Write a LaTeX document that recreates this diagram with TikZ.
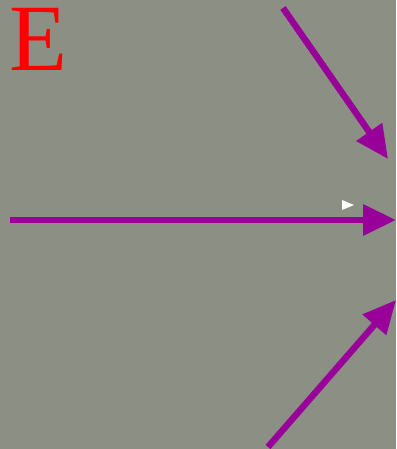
\documentclass[tikz,border=0pt]{standalone}
\usepackage{fontspec}
\setmainfont{Liberation Serif}
\usetikzlibrary{arrows.meta}
\definecolor{bgc}{RGB}{140,144,132}
\definecolor{arr}{RGB}{153,0,153}
\begin{document}
\begin{tikzpicture}[x=1pt,y=1pt,
  arrowline/.style={draw=arr,line width=6.5pt,-{Triangle[length=33pt,width=30pt]}}]
\fill[bgc] (0,0) rectangle (396,449);
\useasboundingbox (0,0) rectangle (396,449);
\node[anchor=base west,inner sep=0pt,text=red,font=\fontsize{95}{95}\selectfont] (E) at (9,378) {E};
\coordinate (ts) at (283,441);
\coordinate (te) at (388,290);
\coordinate (ms) at (10,229);
\coordinate (me) at (396,229);
\coordinate (bs) at (268,2);
\coordinate (be) at (396,149);
\draw[arrowline] (ts) -- (te);
\draw[arrowline] (ms) -- (me);
\draw[arrowline] (bs) -- (be);
\fill[white] (342,249) -- (354,244) -- (342,239) -- cycle;
\end{tikzpicture}
\end{document}
